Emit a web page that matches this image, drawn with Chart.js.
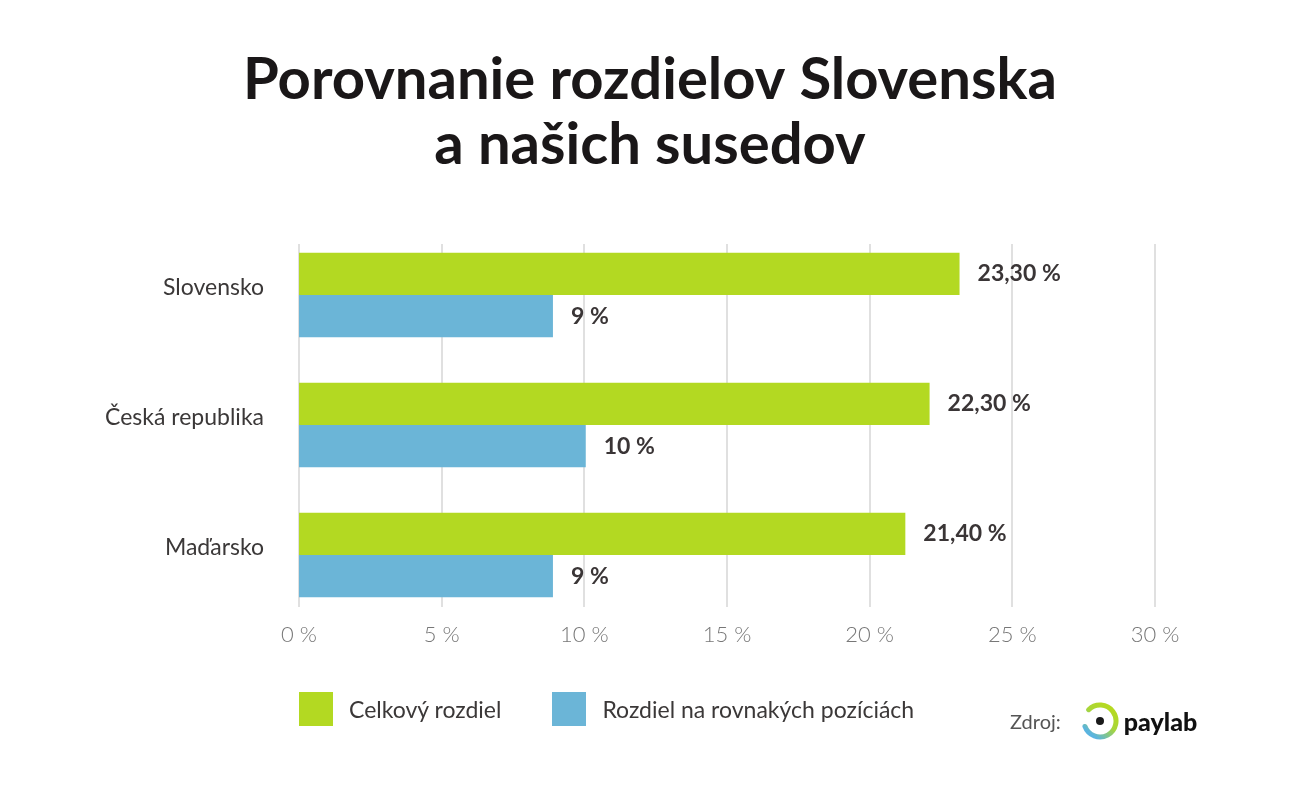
<!DOCTYPE html>
<html>
<head>
<meta charset="utf-8">
<script src="https://cdn.jsdelivr.net/npm/chart.js@4.4.0/dist/chart.umd.min.js"></script>
<style>
  html, body { margin: 0; padding: 0; background: #fff; }
  #wrap { position: relative; width: 1300px; height: 793px; font-family: Lato, sans-serif; }
  #graf { position: absolute; left: 0; top: 0; }
  #legenda { position: absolute; left: 299px; top: 692px; display: flex; align-items: center; }
  .polozka { display: flex; align-items: center; margin-right: 51px; font-size: 23px; color: #3b3838; }
  .stvorec { width: 34px; height: 34px; margin-right: 16px; }
  #zdroj { position: absolute; left: 1010px; top: 701px; height: 40px; display: flex; align-items: center; }
</style>
</head>
<body>
<div id="wrap">
  <canvas id="graf" width="1300" height="793"></canvas>
  <div id="legenda"></div>
  <div id="zdroj">
    <span style="font-size:20px;color:#555;margin-right:19px">Zdroj:</span>
    <svg width="40" height="40" viewBox="0 0 40 40">
      <defs>
        <linearGradient id="grad" x1="0.8" y1="0.1" x2="0.2" y2="0.9">
          <stop offset="0" stop-color="#b5d922"/>
          <stop offset="0.45" stop-color="#a8d63a"/>
          <stop offset="1" stop-color="#5ab4e0"/>
        </linearGradient>
      </defs>
      <path d="M 8.69 8.69 A 16 16 0 1 1 4.96 25.47" fill="none" stroke="url(#grad)" stroke-width="5" stroke-linecap="round"/>
      <circle cx="20" cy="20" r="4" fill="#1a1a1a"/>
    </svg>
    <span style="font-size:25px;font-weight:900;color:#111;margin-left:4px">paylab</span>
  </div>
</div>
<script>
const kategorie = ["Slovensko", "Česká republika", "Maďarsko"];
const nazvySerii = ["Celkový rozdiel", "Rozdiel na rovnakých pozíciách"];
const celkovy = [23.15, 22.1, 21.25];
const rovnake = [8.9, 10.05, 8.9];
const celkovyText = ["23,30 %", "22,30 %", "21,40 %"];
const rovnakeText = ["9 %", "10 %", "9 %"];
const osX = [0, 5, 10, 15, 20, 25, 30];

const farby = ["#b3d922", "#6bb5d7"];

// zvisle ciary mriezky, kratsie nez plocha grafu
const mriezka = {
  id: "mriezka",
  beforeDatasetsDraw(chart) {
    const { ctx, chartArea, scales } = chart;
    ctx.save();
    ctx.strokeStyle = "#d6d6d6";
    ctx.lineWidth = 1.5;
    scales.x.ticks.forEach((t) => {
      const px = Math.round(scales.x.getPixelForValue(t.value));
      ctx.beginPath();
      ctx.moveTo(px, chartArea.top + 14);
      ctx.lineTo(px, chartArea.bottom - 13);
      ctx.stroke();
    });
    ctx.restore();
  },
};

// hodnoty vedla stlpcov
const popisky = {
  id: "popisky",
  afterDatasetsDraw(chart) {
    const ctx = chart.ctx;
    const texty = [celkovyText, rovnakeText];
    ctx.save();
    ctx.font = "bold 23px Lato";
    ctx.fillStyle = "#3a3536";
    ctx.textBaseline = "middle";
    chart.data.datasets.forEach((ds, d) => {
      chart.getDatasetMeta(d).data.forEach((bar, i) => {
        ctx.fillText(texty[d][i], bar.x + 18, bar.y);
      });
    });
    ctx.restore();
  },
};

const config = {
  type: "bar",
  data: {
    labels: kategorie,
    datasets: [
      { label: nazvySerii[0], data: celkovy, backgroundColor: farby[0] },
      { label: nazvySerii[1], data: rovnake, backgroundColor: farby[1] },
    ],
  },
  options: {
    indexAxis: "y",
    responsive: false,
    animation: false,
    categoryPercentage: 0.65,
    barPercentage: 1.0,
    layout: { padding: { left: 0, right: 0, top: 0, bottom: 133 } },
    plugins: {
      legend: { display: false },
      tooltip: { enabled: false },
      title: {
        display: true,
        text: ["Porovnanie rozdielov Slovenska", "a našich susedov"],
        color: "#1a1718",
        font: { family: "Lato", size: 58, weight: "bold", lineHeight: "65px" },
        padding: { top: 48, bottom: 52 },
      },
    },
    scales: {
      x: {
        min: 0,
        max: 30,
        afterBuildTicks: (s) => {
          s.ticks = osX.map((v) => ({ value: v }));
        },
        afterFit: (s) => {
          s.height = 40;
        },
        grid: { display: false },
        border: { display: false },
        ticks: {
          padding: -6,
          color: "#777777",
          font: { family: "Lato", size: 22, weight: "300" },
          callback: (v) => v + " %",
        },
      },
      y: {
        afterFit: (s) => {
          s.width = 299;
        },
        grid: { display: false, drawTicks: false },
        border: { display: false },
        ticks: {
          padding: 35,
          labelOffset: -7,
          color: "#3b3838",
          font: { family: "Lato", size: 23 },
        },
      },
      // prazdna os vpravo, aby nadpis zostal v strede stranky
      vpravo: {
        type: "category",
        position: "right",
        afterFit: (s) => {
          s.width = 145;
        },
        grid: { display: false, drawTicks: false },
        border: { display: false },
        ticks: { display: false },
      },
    },
  },
  plugins: [mriezka, popisky],
};

const graf = new Chart(document.getElementById("graf"), config);

// legenda pod grafom
const legenda = document.getElementById("legenda");
graf.data.datasets.forEach((ds) => {
  const el = document.createElement("div");
  el.className = "polozka";
  el.innerHTML = `<div class="stvorec" style="background:${ds.backgroundColor}"></div><span>${ds.label}</span>`;
  legenda.appendChild(el);
});
</script>
</body>
</html>
